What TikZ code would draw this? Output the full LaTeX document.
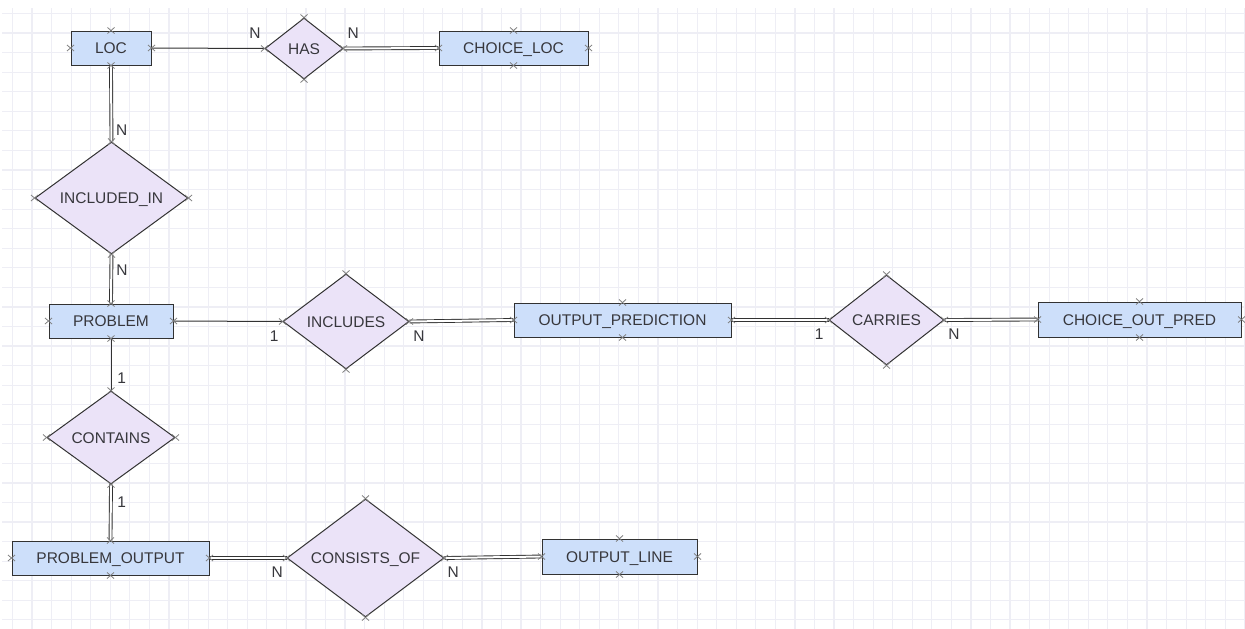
\documentclass[tikz,border=0pt]{standalone}
\usepackage{fontspec}
\setmainfont{Liberation Sans}
\usetikzlibrary{shapes.geometric}

\definecolor{edge}{RGB}{50,50,50}
\definecolor{txt}{RGB}{55,55,60}
\definecolor{entfill}{RGB}{205,223,250}
\definecolor{relfill}{RGB}{235,227,248}
\definecolor{gridcol}{RGB}{238,238,245}
\definecolor{markcol}{RGB}{125,125,125}

\tikzset{
  lbl/.style={font=\fontsize{15.5}{18}\selectfont, text=txt, text height=11pt, text depth=0pt},
  entity/.style={lbl, draw=edge, fill=entfill, line width=1pt, inner sep=0pt, minimum height=34pt},
  relation/.style={lbl, diamond, draw=edge, fill=relfill, line width=1pt, inner sep=0pt},
  card/.style={lbl, inner sep=0pt},
  conn/.style={draw=edge, line width=1pt},
  dbl/.style={draw=edge, line width=0.9pt, double=white, double distance=2pt},
  gridline/.style={draw=gridcol, line width=1.2pt},
  xmark/.style={draw=markcol, line width=0.8pt}
}

\begin{document}
\begin{tikzpicture}[x=1pt, y=-1pt]
\useasboundingbox (0,0) rectangle (1245,629);
\fill[white] (0,0) rectangle (1245,629);

% background grid
\foreach \i in {0,...,63}
  \draw[gridline] ({12.5+19.56*\i},8) -- ({12.5+19.56*\i},629);
\foreach \j in {0,...,31}
  \draw[gridline] (2,{13.5+19.56*\j}) -- (1245,{13.5+19.56*\j});

% entities
\node[entity, minimum width=80pt]  (loc)        at (111,48)      {LOC};
\node[entity, minimum width=149pt] (choiceloc)  at (513.5,48)    {CHOICE\_LOC};
\node[entity, minimum width=124pt] (problem)    at (111,321)     {PROBLEM};
\node[entity, minimum width=217pt] (outpred)    at (622.5,320)   {OUTPUT\_PREDICTION};
\node[entity, minimum width=203pt, minimum height=35pt] (choiceout) at (1139.5,319.5) {CHOICE\_OUT\_PRED};
\node[entity, minimum width=197pt] (pout)       at (110.5,558)   {PROBLEM\_OUTPUT};
\node[entity, minimum width=155pt, minimum height=35pt] (oline) at (619.5,556.5) {OUTPUT\_LINE};

% relationships
\node[relation, aspect=1.28, minimum width=78pt,  minimum height=61pt]  (has)        at (304,48.5)  {HAS};
\node[relation, aspect=1.37, minimum width=153pt, minimum height=112pt] (includedin) at (111.5,198) {INCLUDED\_IN};
\node[relation, aspect=1.33, minimum width=126pt, minimum height=95pt]  (includes)   at (346,321.5) {INCLUDES};
\node[relation, aspect=1.28, minimum width=115pt, minimum height=90pt]  (carries)    at (886.5,320) {CARRIES};
\node[relation, aspect=1.38, minimum width=128pt, minimum height=93pt]  (contains)   at (111,437.5) {CONTAINS};
\node[relation, aspect=1.33, minimum width=157pt, minimum height=118pt] (consists)   at (365.5,558) {CONSISTS\_OF};

% connectors
\draw[conn] (loc.east) -- (has.west);
\draw[dbl]  (has.east) -- (choiceloc.west);
\draw[dbl]  (loc.south) -- (includedin.north);
\draw[dbl]  (includedin.south) -- (problem.north);
\draw[conn] (problem.east) -- (includes.west);
\draw[dbl]  (includes.east) -- (outpred.west);
\draw[dbl]  (outpred.east) -- (carries.west);
\draw[dbl]  (carries.east) -- (choiceout.west);
\draw[conn] (problem.south) -- (contains.north);
\draw[dbl]  (contains.south) -- (pout.north);
\draw[dbl]  (pout.east) -- (consists.west);
\draw[dbl]  (consists.east) -- (oline.west);

% connection point markers
\foreach \n in {loc,choiceloc,problem,outpred,choiceout,pout,oline,has,includedin,includes,carries,contains,consists}
  \foreach \a in {north,south,east,west}
    \draw[xmark] (\n.\a) ++(-3.5,-3) -- ++(7,6) ++(-7,0) -- ++(7,-6);

% cardinalities
\node[card] (cHasL)  at (255,33)      {N};
\node[card] (cHasR)  at (353.3,33)    {N};
\node[card] (cIinT)  at (121.7,130)   {N};
\node[card] (cIinB)  at (122,270)     {N};
\node[card] (cIncL)  at (274.3,335.5) {1};
\node[card] (cIncR)  at (419,336)     {N};
\node[card] (cCarL)  at (819.3,334)   {1};
\node[card] (cCarR)  at (954,333.5)   {N};
\node[card] (cConT)  at (121.7,378.3) {1};
\node[card] (cConB)  at (121.7,501.7) {1};
\node[card] (cCsoL)  at (277.3,571.7) {N};
\node[card] (cCsoR)  at (453.3,571.7) {N};
\end{tikzpicture}
\end{document}
